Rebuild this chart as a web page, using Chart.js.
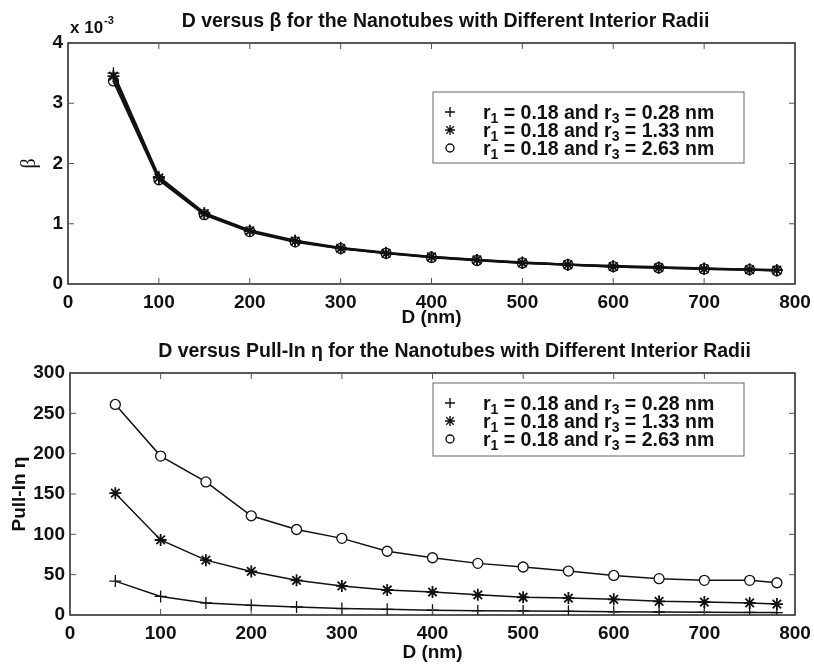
<!DOCTYPE html>
<html>
<head>
<meta charset="utf-8">
<script src="https://cdn.jsdelivr.net/npm/chart.js@4/dist/chart.umd.min.js"></script>
<style>
  html, body { margin: 0; padding: 0; background: #fff; }
  .box { position: relative; width: 814px; height: 333px; }
</style>
</head>
<body>
<div class="box"><canvas id="betaChart"></canvas></div>
<div class="box"><canvas id="pullInChart"></canvas></div>
<script>
// D (nm)
const diameters = [50, 100, 150, 200, 250, 300, 350, 400, 450, 500, 550, 600, 650, 700, 750, 780];

// beta, en unidades de 1e-3
const betaR028 = [3.50, 1.78, 1.18, 0.89, 0.72, 0.60, 0.52, 0.45, 0.40, 0.36, 0.32, 0.30, 0.28, 0.26, 0.24, 0.23];
const betaR133 = [3.45, 1.76, 1.17, 0.88, 0.71, 0.59, 0.51, 0.45, 0.40, 0.35, 0.32, 0.29, 0.27, 0.25, 0.24, 0.23];
const betaR263 = [3.37, 1.73, 1.15, 0.87, 0.70, 0.59, 0.51, 0.44, 0.39, 0.35, 0.32, 0.29, 0.27, 0.25, 0.24, 0.22];

// Pull-In eta
const etaR028 = [42, 23, 15, 12, 10, 8, 7, 6, 5.4, 5, 4.5, 4, 3.7, 3.3, 3.2, 3];
const etaR133 = [151, 93, 68, 54, 43, 36, 31, 28.5, 25, 22, 21, 19.4, 17, 16, 15, 13.6];
const etaR263 = [261, 197, 165, 123, 106, 95, 79, 71, 64, 59.5, 54.5, 49, 45, 43, 43, 40];

const xTicks = [0, 100, 200, 300, 400, 500, 600, 700, 800];
const betaTicks = [0, 1, 2, 3, 4];
const etaTicks = [0, 50, 100, 150, 200, 250, 300];

// leyenda: [r1, r3, marcador]
const legendR1 = ['0.18', '0.18', '0.18'];
const legendR3 = ['0.28', '1.33', '2.63'];
const markers = ['cross', 'star', 'circle'];

const FONT = '"Liberation Sans", Arial, sans-serif';
const INK = '#111';

function pts(ys) {
    return diameters.map((d, i) => ({ x: d, y: ys[i] }));
}

function drawMarker(ctx, style, x, y, r) {
    ctx.beginPath();
    if (style === 'cross' || style === 'star') {
        ctx.moveTo(x - r, y); ctx.lineTo(x + r, y);
        ctx.moveTo(x, y - r); ctx.lineTo(x, y + r);
    }
    if (style === 'star') {
        const k = r * 0.75;
        ctx.moveTo(x - k, y - k); ctx.lineTo(x + k, y + k);
        ctx.moveTo(x - k, y + k); ctx.lineTo(x + k, y - k);
    }
    if (style === 'circle') {
        ctx.arc(x, y, r * 0.8, 0, Math.PI * 2);
    }
    ctx.stroke();
}

// titulo, marco, ticks hacia adentro, leyenda
const decorPlugin = {
    id: 'decor',
    afterDraw(chart, args, opts) {
        const ctx = chart.ctx;
        const a = chart.chartArea;
        const xs = chart.scales.x, ys = chart.scales.y;
        ctx.save();

        // marco
        ctx.strokeStyle = '#222';
        ctx.lineWidth = 1.5;
        ctx.strokeRect(a.left, a.top, a.right - a.left, a.bottom - a.top);

        // ticks
        ctx.lineWidth = 1;
        ctx.strokeStyle = '#555';
        const tl = 6;
        xTicks.forEach(v => {
            const px = xs.getPixelForValue(v);
            ctx.beginPath();
            ctx.moveTo(px, a.bottom); ctx.lineTo(px, a.bottom - tl);
            ctx.moveTo(px, a.top); ctx.lineTo(px, a.top + tl);
            ctx.stroke();
        });
        opts.yTicks.forEach(v => {
            const py = ys.getPixelForValue(v);
            ctx.beginPath();
            ctx.moveTo(a.left, py); ctx.lineTo(a.left + tl, py);
            ctx.moveTo(a.right, py); ctx.lineTo(a.right - tl, py);
            ctx.stroke();
        });

        ctx.fillStyle = INK;
        // titulo
        ctx.font = 'bold 19.5px ' + FONT;
        ctx.textAlign = 'center';
        ctx.textBaseline = 'middle';
        ctx.fillText(opts.title, (a.left + a.right) / 2 + opts.titleShift, a.top - 21);

        // titulo eje x
        ctx.font = 'bold 19px ' + FONT;
        ctx.fillText('D (nm)', (a.left + a.right) / 2, a.bottom + opts.xTitleGap);

        // titulo eje y
        ctx.save();
        ctx.translate(opts.yTitleX, (a.top + a.bottom) / 2);
        ctx.rotate(-Math.PI / 2);
        ctx.font = opts.yTitleFont;
        ctx.fillText(opts.yTitle, 0, 0);
        ctx.restore();

        // exponente
        if (opts.exponent) {
            ctx.textAlign = 'left';
            ctx.textBaseline = 'alphabetic';
            ctx.font = 'bold 17px ' + FONT;
            ctx.fillText('x 10', a.left + 2, a.top - 10);
            const w = ctx.measureText('x 10').width;
            ctx.font = 'bold 11px ' + FONT;
            ctx.fillText(opts.exponent, a.left + 3 + w, a.top - 19);
        }

        // leyenda
        const L = opts.legend;
        const bx = a.left + L.dx, by = a.top + L.dy;
        ctx.fillStyle = '#fff';
        ctx.fillRect(bx, by, L.w, L.h);
        ctx.strokeStyle = '#666';
        ctx.lineWidth = 1;
        ctx.strokeRect(bx, by, L.w, L.h);
        ctx.strokeStyle = INK;
        ctx.fillStyle = INK;
        ctx.lineWidth = 1.4;
        ctx.textBaseline = 'alphabetic';
        ctx.textAlign = 'left';
        const big = 'bold 19.5px ' + FONT, small = 'bold 14px ' + FONT;
        markers.forEach((m, i) => {
            const cy = by + 20 + i * 18;
            drawMarker(ctx, m, bx + 17, cy, 5);
            let x = bx + 50;
            const base = cy + 7;
            const parts = [
                [big, 'r', 0], [small, '1', 4],
                [big, ' = ' + legendR1[i] + ' and r', 0], [small, '3', 4],
                [big, ' = ' + legendR3[i] + ' nm', 0]
            ];
            parts.forEach(p => {
                ctx.font = p[0];
                ctx.fillText(p[1], x, base + p[2]);
                x += ctx.measureText(p[1]).width;
            });
        });
        ctx.restore();
    }
};

function series(data, style, width, fill) {
    return {
        data: pts(data),
        borderColor: INK,
        borderWidth: width,
        pointStyle: style,
        pointRadius: style === 'circle' ? 5 : 6,
        pointBorderColor: INK,
        pointBackgroundColor: fill,
        pointBorderWidth: style === 'star' ? 1.8 : 1.3,
        tension: 0
    };
}

function makeChart(id, datasets, yMax, yTicks, geo, opts) {
    return new Chart(document.getElementById(id), {
        type: 'line',
        data: { datasets: datasets },
        options: {
            responsive: true,
            maintainAspectRatio: false,
            animation: false,
            events: [],
            layout: { padding: { top: geo.top, right: geo.right, left: 0, bottom: 0 } },
            plugins: {
                legend: { display: false },
                tooltip: { enabled: false },
                decor: Object.assign({ yTicks: yTicks }, opts)
            },
            scales: {
                x: {
                    type: 'linear',
                    min: 0, max: 800,
                    afterBuildTicks: s => { s.ticks = xTicks.map(v => ({ value: v })); },
                    afterFit: s => {
                        s.height = geo.xHeight;
                        s.paddingLeft = 0;
                        s.paddingRight = 0;
                    },
                    grid: { display: false, drawTicks: false },
                    border: { display: false },
                    ticks: {
                        padding: 7,
                        color: INK,
                        maxRotation: 0,
                        font: { family: FONT, size: 19, weight: 'bold' }
                    }
                },
                y: {
                    min: 0, max: yMax,
                    afterBuildTicks: s => { s.ticks = yTicks.map(v => ({ value: v })); },
                    afterFit: s => { s.width = geo.yWidth; },
                    grid: { display: false, drawTicks: false },
                    border: { display: false },
                    ticks: {
                        padding: 5,
                        color: INK,
                        font: { family: FONT, size: 19, weight: 'bold' }
                    }
                }
            }
        },
        plugins: [decorPlugin]
    });
}

makeChart('betaChart', [
    series(betaR028, 'cross', 2.2, 'rgba(0,0,0,0)'),
    series(betaR133, 'star', 2.2, 'rgba(0,0,0,0)'),
    series(betaR263, 'circle', 2.2, 'rgba(0,0,0,0)')
], 4, betaTicks,
    { top: 43, right: 19, xHeight: 49, yWidth: 68 },
    {
        title: 'D versus \u03b2 for the Nanotubes with Different Interior Radii',
        titleShift: 14,
        xTitleGap: 34,
        yTitle: '\u03b2',
        yTitleX: 30,
        yTitleFont: '20px "Liberation Serif", serif',
        exponent: '-3',
        legend: { dx: 365, dy: 49, w: 311, h: 71 }
    });

makeChart('pullInChart', [
    series(etaR263, 'circle', 1.5, '#fff'),
    series(etaR133, 'star', 1.5, '#fff'),
    series(etaR028, 'cross', 1.5, '#fff')
], 300, etaTicks,
    { top: 40, right: 19, xHeight: 51, yWidth: 70 },
    {
        title: 'D versus Pull-In \u03b7 for the Nanotubes with Different Interior Radii',
        titleShift: 22,
        xTitleGap: 38,
        yTitle: 'Pull-In \u03b7',
        yTitleX: 20,
        yTitleFont: 'bold 19px ' + FONT,
        exponent: null,
        legend: { dx: 363, dy: 10, w: 311, h: 73 }
    });
</script>
</body>
</html>
